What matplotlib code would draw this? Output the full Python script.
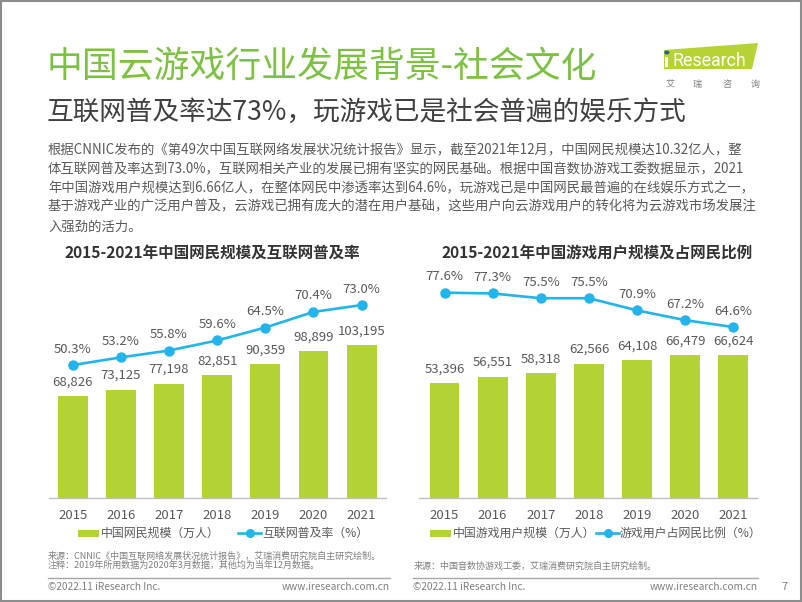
import matplotlib
matplotlib.use('Agg')
import matplotlib.pyplot as plt
from matplotlib.patches import Rectangle, Polygon, Circle
from matplotlib.lines import Line2D

plt.rcParams['font.family'] = ['Noto Sans CJK SC', 'DejaVu Sans']

# ---------------- data ----------------
years = ['2015', '2016', '2017', '2018', '2019', '2020', '2021']
netizens = [68826, 73125, 77198, 82851, 90359, 98899, 103195]          # 万人
penetration = [50.3, 53.2, 55.8, 59.6, 64.5, 70.4, 73.0]              # %
gamers = [53396, 56551, 58318, 62566, 64108, 66479, 66624]            # 万人
gamer_share = [77.6, 77.3, 75.5, 75.5, 70.9, 67.2, 64.6]              # %

title = '中国云游戏行业发展背景-社会文化'
subtitle = '互联网普及率达73%，玩游戏已是社会普遍的娱乐方式'
paragraph = [
    '根据CNNIC发布的《第49次中国互联网络发展状况统计报告》显示，截至2021年12月，中国网民规模达10.32亿人，整',
    '体互联网普及率达到73.0%，互联网相关产业的发展已拥有坚实的网民基础。根据中国音数协游戏工委数据显示，2021',
    '年中国游戏用户规模达到6.66亿人，在整体网民中渗透率达到64.6%，玩游戏已是中国网民最普遍的在线娱乐方式之一，',
    '基于游戏产业的广泛用户普及，云游戏已拥有庞大的潜在用户基础，这些用户向云游戏用户的转化将为云游戏市场发展注',
    '入强劲的活力。',
]
left_title = '2015-2021年中国网民规模及互联网普及率'
right_title = '2015-2021年中国游戏用户规模及占网民比例'
left_bar_name = '中国网民规模（万人）'
left_line_name = '互联网普及率（%）'
right_bar_name = '中国游戏用户规模（万人）'
right_line_name = '游戏用户占网民比例（%）'
left_source = ['来源：CNNIC《中国互联网络发展状况统计报告》，艾瑞消费研究院自主研究绘制。',
               '注释：2019年所用数据为2020年3月数据，其他均为当年12月数据。']
right_source = '来源：中国音数协游戏工委，艾瑞消费研究院自主研究绘制。'

# ---------------- style ----------------
GREEN_T = '#7dc142'
BAR = '#b2d235'
LINE = '#22b4ea'
TXT = '#595959'
DARK = '#404040'

W, H = 802, 602
fig = plt.figure(figsize=(W / 100, H / 100), dpi=100)


def fx(x):
    return x / W


def fy(y):
    return 1 - y / H


def txt(x, y, s, **kw):
    kw.setdefault('va', 'center')
    return fig.text(fx(x), fy(y), s, **kw)


# page border
fig.patches.append(Rectangle((0.001, 0.001), 0.998, 0.998, transform=fig.transFigure,
                             fill=False, edgecolor='#8c8c8c', lw=1.5))

# titles
txt(47, 67, title, fontsize=25.8, color=GREEN_T, ha='left', fontweight='light')
txt(47, 112, subtitle, fontsize=19.2, color=DARK, ha='left', fontweight='light')

# logo
fig.patches.append(Polygon([(fx(664), fy(50)), (fx(758), fy(43)), (fx(752), fy(69)), (fx(664), fy(69))],
                           closed=True, transform=fig.transFigure, facecolor='#b5d334', edgecolor='none'))
fig.patches.append(Rectangle((fx(665.3), fy(67)), 3 / W, 10 / H, transform=fig.transFigure,
                             facecolor='white', edgecolor='none'))
fig.patches.append(Circle((fx(666.8), fy(52.5)), 2.6 / W, transform=fig.transFigure,
                          facecolor='#2a5aa8', edgecolor='none'))
txt(672, 61, 'Research', fontsize=12.8, color='white', ha='left', family='Roboto')
for ch, cx in zip('艾瑞咨询', [670, 697, 727, 755]):
    txt(cx, 84, ch, fontsize=6.5, color='#7f7f7f', ha='center')

# paragraph
for line, yy in zip(paragraph, [150.7, 169.3, 188.3, 206.9, 226.7]):
    txt(48, yy, line, fontsize=9.6, color=TXT, ha='left')

# chart titles
txt(212, 253, left_title, fontsize=11.2, color='#333333', ha='center', fontweight='bold')
txt(597, 253, right_title, fontsize=11.2, color='#333333', ha='center', fontweight='bold')


def make_chart(x0, x1, first_center, bars, line, bar_px_per_unit, line_px_per_pct):
    top, bottom = 245, 498
    hpx = bottom - top
    ax = fig.add_axes([fx(x0), fy(bottom), (x1 - x0) / W, hpx / H])
    step = 48.15
    lo = -(first_center - x0) / step
    hi = lo + (x1 - x0) / step
    xs = list(range(len(years)))
    ax.bar(xs, bars, width=0.62, color=BAR, zorder=2)
    ax.set_xlim(lo, hi)
    ax.set_ylim(0, hpx / bar_px_per_unit)
    for s in ['top', 'right', 'left']:
        ax.spines[s].set_visible(False)
    ax.spines['bottom'].set_color('#bfbfbf')
    ax.spines['bottom'].set_linewidth(1.0)
    ax.set_yticks([])
    ax.set_xticks(xs)
    ax.set_xticklabels(years, fontsize=9.5, color=TXT)
    ax.tick_params(axis='x', length=0, pad=8)
    ax.patch.set_alpha(0)
    for x, v in zip(xs, bars):
        ax.annotate(f'{v:,}', (x, v), xytext=(0, 14), textcoords='offset pixels',
                    ha='center', va='center', fontsize=9.5, color=TXT)
    ax2 = ax.twinx()
    ax2.set_ylim(0, hpx / line_px_per_pct)
    ax2.set_xlim(lo, hi)
    ax2.plot(xs, line, color=LINE, lw=1.9, marker='o', markersize=6.5, zorder=3)
    for x, v in zip(xs, line):
        ax2.annotate(f'{v:.1f}%', (x, v), xytext=(0, 16), textcoords='offset pixels',
                     ha='center', va='center', fontsize=9.5, color=TXT)
    ax2.axis('off')
    return ax


make_chart(49, 386, 72.7, netizens, penetration, 153 / 103195, 60 / 22.7)
make_chart(419, 757, 444.5, gamers, gamer_share, 114.7 / 53396, 34.4 / 13.0)


# legends
def legend(rx, lx, bar_label, line_label, y=533):
    fig.patches.append(Rectangle((fx(rx), fy(y + 3.5)), 21 / W, 7 / H, transform=fig.transFigure,
                                 facecolor=BAR, edgecolor='none'))
    txt(rx + 23, y, bar_label, fontsize=8.6, color=TXT, ha='left')
    fig.lines.append(Line2D([fx(lx), fx(lx + 23)], [fy(y), fy(y)], transform=fig.transFigure,
                            color=LINE, lw=1.9))
    fig.lines.append(Line2D([fx(lx + 11.5)], [fy(y)], transform=fig.transFigure, color=LINE,
                            marker='o', markersize=5.5, lw=0))
    txt(lx + 24, y, line_label, fontsize=8.6, color=TXT, ha='left')


legend(78, 238, left_bar_name, left_line_name)
legend(430, 596, right_bar_name, right_line_name)

# sources
txt(48, 556.5, left_source[0], fontsize=6.5, color='#7f7f7f', ha='left')
txt(48, 565.5, left_source[1], fontsize=6.5, color='#7f7f7f', ha='left')
txt(414, 566, right_source, fontsize=6.5, color='#7f7f7f', ha='left')

# footer
for a, b in [(48, 390), (413, 758)]:
    fig.lines.append(Line2D([fx(a), fx(b)], [fy(577.5), fy(577.5)], transform=fig.transFigure,
                            color='#a6a6a6', lw=1.0))
    txt(a, 586.5, '©2022.11 iResearch Inc.', fontsize=7.3, color='#7f7f7f', ha='left')
    txt(b, 586.5, 'www.iresearch.com.cn', fontsize=7.3, color='#7f7f7f', ha='right')
txt(785, 587, '7', fontsize=8, color='#7f7f7f', ha='center')

fig.savefig('out.png', dpi=100)
